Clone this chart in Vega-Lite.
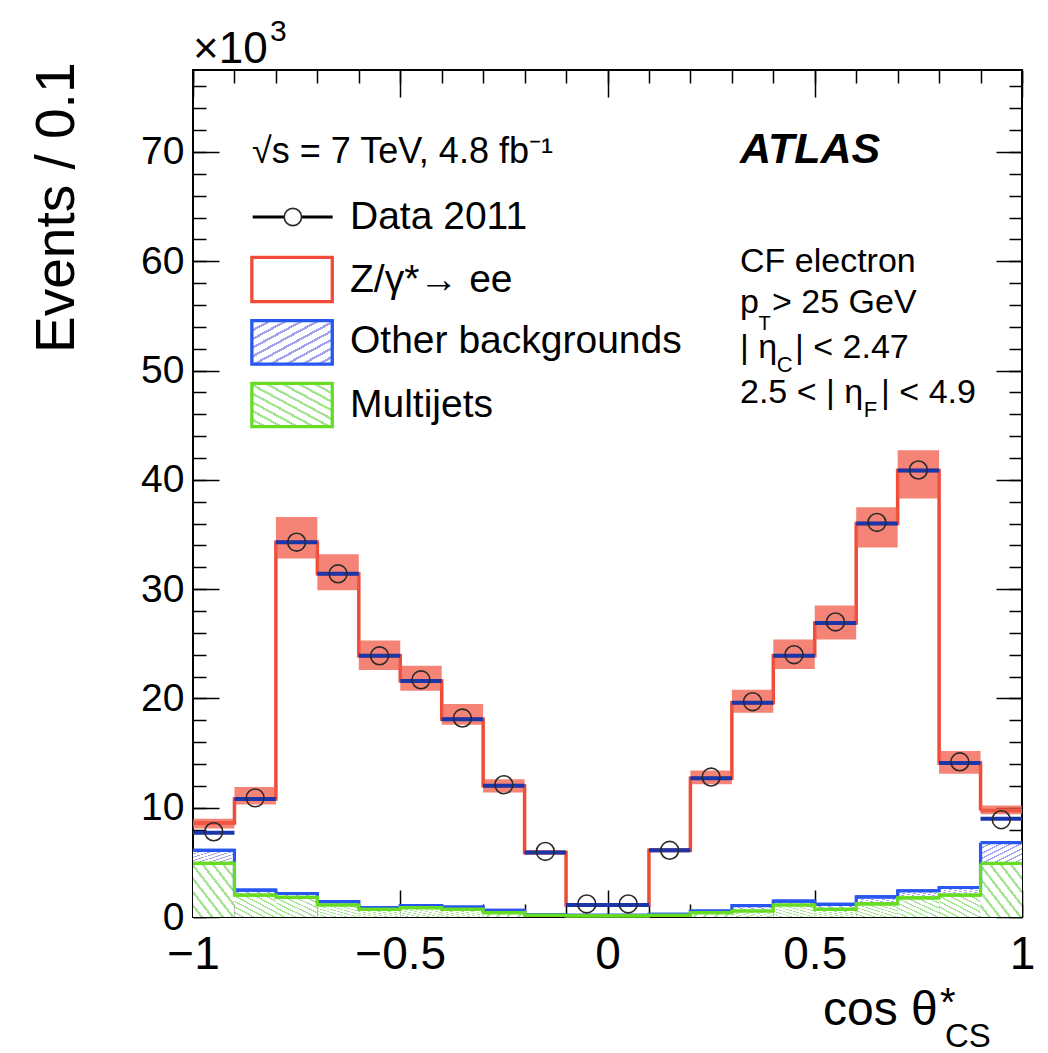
{
  "$schema": "https://vega.github.io/schema/vega-lite/v6.json",
  "width": 829,
  "height": 847,
  "autosize": {"type": "none"},
  "padding": {"left": 193, "top": 70, "right": 26, "bottom": 136},
  "config": {
    "font": "Liberation Sans",
    "view": {"stroke": "#000000", "strokeWidth": 2},
    "axis": {"domain": false, "grid": false, "labelColor": "#000000", "tickColor": "#000000", "titleColor": "#000000"}
  },
  "data": {
    "values": [
      {"cos_lo": -1.0, "cos_hi": -0.9, "cos_mid": -0.95, "multijet": 4.9, "other": 6.1, "total": 7.7, "zee": 8.6, "unc_lo": 8.1, "unc_hi": 9.0, "data": 7.8},
      {"cos_lo": -0.9, "cos_hi": -0.8, "cos_mid": -0.85, "multijet": 2.0, "other": 2.45, "total": 10.8, "zee": 10.8, "unc_lo": 10.3, "unc_hi": 11.9, "data": 10.9},
      {"cos_lo": -0.8, "cos_hi": -0.7, "cos_mid": -0.75, "multijet": 1.8, "other": 2.15, "total": 34.3, "zee": 34.3, "unc_lo": 32.8, "unc_hi": 36.6, "data": 34.3},
      {"cos_lo": -0.7, "cos_hi": -0.6, "cos_mid": -0.65, "multijet": 1.1, "other": 1.4, "total": 31.4, "zee": 31.4, "unc_lo": 29.9, "unc_hi": 33.2, "data": 31.4},
      {"cos_lo": -0.6, "cos_hi": -0.5, "cos_mid": -0.55, "multijet": 0.7, "other": 0.85, "total": 23.9, "zee": 23.9, "unc_lo": 22.6, "unc_hi": 25.3, "data": 23.9},
      {"cos_lo": -0.5, "cos_hi": -0.4, "cos_mid": -0.45, "multijet": 0.85, "other": 1.05, "total": 21.6, "zee": 21.6, "unc_lo": 20.7, "unc_hi": 23.0, "data": 21.7},
      {"cos_lo": -0.4, "cos_hi": -0.3, "cos_mid": -0.35, "multijet": 0.7, "other": 0.9, "total": 18.1, "zee": 18.1, "unc_lo": 17.6, "unc_hi": 19.5, "data": 18.2},
      {"cos_lo": -0.3, "cos_hi": -0.2, "cos_mid": -0.25, "multijet": 0.4, "other": 0.6, "total": 12.0, "zee": 12.0, "unc_lo": 11.4, "unc_hi": 12.6, "data": 12.1},
      {"cos_lo": -0.2, "cos_hi": -0.1, "cos_mid": -0.15, "multijet": 0.15, "other": 0.2, "total": 5.9, "zee": 5.9, "unc_lo": 5.7, "unc_hi": 6.1, "data": 6.0},
      {"cos_lo": -0.1, "cos_hi": 0.0, "cos_mid": -0.05, "multijet": 0.1, "other": 0.15, "total": 1.1, "zee": 1.1, "unc_lo": 1.0, "unc_hi": 1.2, "data": 1.2},
      {"cos_lo": 0.0, "cos_hi": 0.1, "cos_mid": 0.05, "multijet": 0.1, "other": 0.15, "total": 1.1, "zee": 1.1, "unc_lo": 1.0, "unc_hi": 1.2, "data": 1.2},
      {"cos_lo": 0.1, "cos_hi": 0.2, "cos_mid": 0.15, "multijet": 0.15, "other": 0.25, "total": 6.1, "zee": 6.1, "unc_lo": 5.9, "unc_hi": 6.3, "data": 6.1},
      {"cos_lo": 0.2, "cos_hi": 0.3, "cos_mid": 0.25, "multijet": 0.4, "other": 0.55, "total": 12.7, "zee": 12.7, "unc_lo": 12.15, "unc_hi": 13.4, "data": 12.8},
      {"cos_lo": 0.3, "cos_hi": 0.4, "cos_mid": 0.35, "multijet": 0.55, "other": 1.05, "total": 19.6, "zee": 19.6, "unc_lo": 18.7, "unc_hi": 20.8, "data": 19.7},
      {"cos_lo": 0.4, "cos_hi": 0.5, "cos_mid": 0.45, "multijet": 1.1, "other": 1.45, "total": 23.9, "zee": 23.9, "unc_lo": 22.7, "unc_hi": 25.4, "data": 24.0},
      {"cos_lo": 0.5, "cos_hi": 0.6, "cos_mid": 0.55, "multijet": 0.7, "other": 1.15, "total": 26.9, "zee": 26.9, "unc_lo": 25.4, "unc_hi": 28.5, "data": 27.0},
      {"cos_lo": 0.6, "cos_hi": 0.7, "cos_mid": 0.65, "multijet": 1.2, "other": 1.85, "total": 36.0, "zee": 36.0, "unc_lo": 33.8, "unc_hi": 37.5, "data": 36.1},
      {"cos_lo": 0.7, "cos_hi": 0.8, "cos_mid": 0.75, "multijet": 1.75, "other": 2.4, "total": 40.85, "zee": 40.85, "unc_lo": 38.3, "unc_hi": 42.7, "data": 40.9},
      {"cos_lo": 0.8, "cos_hi": 0.9, "cos_mid": 0.85, "multijet": 2.0, "other": 2.7, "total": 14.1, "zee": 14.1, "unc_lo": 13.1, "unc_hi": 15.2, "data": 14.2},
      {"cos_lo": 0.9, "cos_hi": 1.0, "cos_mid": 0.95, "multijet": 4.9, "other": 6.8, "total": 9.0, "zee": 9.75, "unc_lo": 9.4, "unc_hi": 10.2, "data": 8.9}
    ]
  },
  "resolve": {"axis": {"x": "independent", "y": "independent"}},
  "layer": [
    {
      "mark": {"type": "rect", "fill": {"gradient": "linear", "x1": 1, "y1": 0, "x2": 0, "y2": 1, "stops": [
        {"offset": 0, "color": "#a4e492"}, {"offset": 0.035, "color": "#a4e492"}, {"offset": 0.035, "color": "#ffffff"}, {"offset": 0.125, "color": "#ffffff"},
        {"offset": 0.125, "color": "#a4e492"}, {"offset": 0.16, "color": "#a4e492"}, {"offset": 0.16, "color": "#ffffff"}, {"offset": 0.25, "color": "#ffffff"},
        {"offset": 0.25, "color": "#a4e492"}, {"offset": 0.285, "color": "#a4e492"}, {"offset": 0.285, "color": "#ffffff"}, {"offset": 0.375, "color": "#ffffff"},
        {"offset": 0.375, "color": "#a4e492"}, {"offset": 0.41, "color": "#a4e492"}, {"offset": 0.41, "color": "#ffffff"}, {"offset": 0.5, "color": "#ffffff"},
        {"offset": 0.5, "color": "#a4e492"}, {"offset": 0.535, "color": "#a4e492"}, {"offset": 0.535, "color": "#ffffff"}, {"offset": 0.625, "color": "#ffffff"},
        {"offset": 0.625, "color": "#a4e492"}, {"offset": 0.66, "color": "#a4e492"}, {"offset": 0.66, "color": "#ffffff"}, {"offset": 0.75, "color": "#ffffff"},
        {"offset": 0.75, "color": "#a4e492"}, {"offset": 0.785, "color": "#a4e492"}, {"offset": 0.785, "color": "#ffffff"}, {"offset": 0.875, "color": "#ffffff"},
        {"offset": 0.875, "color": "#a4e492"}, {"offset": 0.91, "color": "#a4e492"}, {"offset": 0.91, "color": "#ffffff"}, {"offset": 1, "color": "#ffffff"}]}},
      "encoding": {
        "x": {"field": "cos_lo", "type": "quantitative", "scale": {"domain": [-1, 1], "nice": false, "zero": false},
          "axis": {"orient": "bottom", "values": [-1, -0.5, 0, 0.5, 1], "format": "~g", "ticks": false, "labelFontSize": 46, "labelPadding": 15, "labelFlush": false, "title": null}},
        "x2": {"field": "cos_hi"},
        "y": {"field": "multijet", "type": "quantitative", "scale": {"domain": [0, 77.5], "nice": false},
          "axis": {"orient": "left", "values": [0, 10, 20, 30, 40, 50, 60, 70], "format": "d", "ticks": false, "labelFontSize": 39, "labelPadding": 9, "labelFlush": false,
            "title": "Events / 0.1", "titleFontSize": 55, "titleFontWeight": "normal", "titleAngle": -90, "titleAnchor": "end", "titleAlign": "right", "titleBaseline": "alphabetic", "titleX": -120, "titleY": -8}},
        "y2": {"datum": 0}
      }
    },
    {
      "mark": {"type": "rect", "fill": {"gradient": "linear", "x1": 0, "y1": 0, "x2": 1, "y2": 1, "stops": [
        {"offset": 0, "color": "#a3a3f2"}, {"offset": 0.035, "color": "#a3a3f2"}, {"offset": 0.035, "color": "#ffffff"}, {"offset": 0.125, "color": "#ffffff"},
        {"offset": 0.125, "color": "#a3a3f2"}, {"offset": 0.16, "color": "#a3a3f2"}, {"offset": 0.16, "color": "#ffffff"}, {"offset": 0.25, "color": "#ffffff"},
        {"offset": 0.25, "color": "#a3a3f2"}, {"offset": 0.285, "color": "#a3a3f2"}, {"offset": 0.285, "color": "#ffffff"}, {"offset": 0.375, "color": "#ffffff"},
        {"offset": 0.375, "color": "#a3a3f2"}, {"offset": 0.41, "color": "#a3a3f2"}, {"offset": 0.41, "color": "#ffffff"}, {"offset": 0.5, "color": "#ffffff"},
        {"offset": 0.5, "color": "#a3a3f2"}, {"offset": 0.535, "color": "#a3a3f2"}, {"offset": 0.535, "color": "#ffffff"}, {"offset": 0.625, "color": "#ffffff"},
        {"offset": 0.625, "color": "#a3a3f2"}, {"offset": 0.66, "color": "#a3a3f2"}, {"offset": 0.66, "color": "#ffffff"}, {"offset": 0.75, "color": "#ffffff"},
        {"offset": 0.75, "color": "#a3a3f2"}, {"offset": 0.785, "color": "#a3a3f2"}, {"offset": 0.785, "color": "#ffffff"}, {"offset": 0.875, "color": "#ffffff"},
        {"offset": 0.875, "color": "#a3a3f2"}, {"offset": 0.91, "color": "#a3a3f2"}, {"offset": 0.91, "color": "#ffffff"}, {"offset": 1, "color": "#ffffff"}]}},
      "encoding": {
        "x": {"field": "cos_lo", "type": "quantitative", "scale": {"domain": [-1, 1], "nice": false, "zero": false},
          "axis": {"orient": "bottom", "values": [-1, -0.5, 0, 0.5, 1], "labels": false, "tickSize": -27, "tickWidth": 1.5, "title": null}},
        "x2": {"field": "cos_hi"},
        "y": {"field": "other", "type": "quantitative", "scale": {"domain": [0, 77.5], "nice": false},
          "axis": {"orient": "left", "values": [0, 10, 20, 30, 40, 50, 60, 70], "labels": false, "tickSize": -26, "tickWidth": 1.5, "title": null}},
        "y2": {"field": "multijet"}
      }
    },
    {
      "mark": {"type": "line", "interpolate": "step-after", "color": "#f04b37", "strokeWidth": 3.5},
      "encoding": {
        "x": {"field": "cos_lo", "type": "quantitative", "scale": {"domain": [-1, 1], "nice": false, "zero": false},
          "axis": {"orient": "bottom", "values": [-1, -0.9, -0.8, -0.7, -0.6, -0.5, -0.4, -0.3, -0.2, -0.1, 0, 0.1, 0.2, 0.3, 0.4, 0.5, 0.6, 0.7, 0.8, 0.9, 1], "labels": false, "tickSize": -13, "tickWidth": 1.5, "title": null}},
        "y": {"field": "zee", "type": "quantitative", "scale": {"domain": [0, 77.5], "nice": false},
          "axis": {"orient": "left", "values": [0, 2, 4, 6, 8, 10, 12, 14, 16, 18, 20, 22, 24, 26, 28, 30, 32, 34, 36, 38, 40, 42, 44, 46, 48, 50, 52, 54, 56, 58, 60, 62, 64, 66, 68, 70, 72, 74, 76], "labels": false, "tickSize": -13, "tickWidth": 1.5, "title": null}}
      }
    },
    {
      "mark": {"type": "rule", "color": "#f04b37", "strokeWidth": 3.5},
      "encoding": {
        "x": {"field": "cos_lo", "type": "quantitative", "scale": {"domain": [-1, 1], "nice": false, "zero": false},
          "axis": {"orient": "top", "values": [-1, -0.5, 0, 0.5, 1], "labels": false, "tickSize": -27, "tickWidth": 1.5, "title": null}},
        "x2": {"field": "cos_hi"},
        "y": {"field": "zee", "type": "quantitative", "scale": {"domain": [0, 77.5], "nice": false},
          "axis": {"orient": "right", "values": [0, 10, 20, 30, 40, 50, 60, 70], "labels": false, "tickSize": -26, "tickWidth": 1.5, "title": null}}
      }
    },
    {
      "mark": {"type": "line", "interpolate": "step-after", "color": "#2756f0", "strokeWidth": 3.2},
      "encoding": {
        "x": {"field": "cos_lo", "type": "quantitative", "scale": {"domain": [-1, 1], "nice": false, "zero": false},
          "axis": {"orient": "top", "values": [-1, -0.9, -0.8, -0.7, -0.6, -0.5, -0.4, -0.3, -0.2, -0.1, 0, 0.1, 0.2, 0.3, 0.4, 0.5, 0.6, 0.7, 0.8, 0.9, 1], "labels": false, "tickSize": -13, "tickWidth": 1.5, "title": null}},
        "y": {"field": "other", "type": "quantitative", "scale": {"domain": [0, 77.5], "nice": false},
          "axis": {"orient": "right", "values": [0, 2, 4, 6, 8, 10, 12, 14, 16, 18, 20, 22, 24, 26, 28, 30, 32, 34, 36, 38, 40, 42, 44, 46, 48, 50, 52, 54, 56, 58, 60, 62, 64, 66, 68, 70, 72, 74, 76], "labels": false, "tickSize": -13, "tickWidth": 1.5, "title": null}}
      }
    },
    {
      "mark": {"type": "rule", "color": "#2756f0", "strokeWidth": 3.2},
      "encoding": {
        "x": {"field": "cos_lo", "type": "quantitative", "scale": {"domain": [-1, 1], "nice": false, "zero": false}, "axis": null},
        "x2": {"field": "cos_hi"},
        "y": {"field": "other", "type": "quantitative", "scale": {"domain": [0, 77.5], "nice": false}, "axis": null}
      }
    },
    {
      "mark": {"type": "line", "interpolate": "step-after", "color": "#66dd22", "strokeWidth": 3.2},
      "encoding": {
        "x": {"field": "cos_lo", "type": "quantitative", "scale": {"domain": [-1, 1], "nice": false, "zero": false}, "axis": null},
        "y": {"field": "multijet", "type": "quantitative", "scale": {"domain": [0, 77.5], "nice": false}, "axis": null}
      }
    },
    {
      "mark": {"type": "rule", "color": "#66dd22", "strokeWidth": 3.2},
      "encoding": {
        "x": {"field": "cos_lo", "type": "quantitative", "scale": {"domain": [-1, 1], "nice": false, "zero": false}, "axis": null},
        "x2": {"field": "cos_hi"},
        "y": {"field": "multijet", "type": "quantitative", "scale": {"domain": [0, 77.5], "nice": false}, "axis": null}
      }
    },
    {
      "mark": {"type": "rect", "fill": "#f25a48", "fillOpacity": 0.75},
      "encoding": {
        "x": {"field": "cos_lo", "type": "quantitative", "scale": {"domain": [-1, 1], "nice": false, "zero": false}, "axis": null},
        "x2": {"field": "cos_hi"},
        "y": {"field": "unc_lo", "type": "quantitative", "scale": {"domain": [0, 77.5], "nice": false}, "axis": null},
        "y2": {"field": "unc_hi"}
      }
    },
    {
      "mark": {"type": "rule", "color": "#1a36a8", "strokeWidth": 4},
      "encoding": {
        "x": {"field": "cos_lo", "type": "quantitative", "scale": {"domain": [-1, 1], "nice": false, "zero": false}, "axis": null},
        "x2": {"field": "cos_hi"},
        "y": {"field": "total", "type": "quantitative", "scale": {"domain": [0, 77.5], "nice": false}, "axis": null}
      }
    },
    {
      "mark": {"type": "point", "shape": "circle", "filled": false, "size": 320, "stroke": "#2a2a2a", "strokeWidth": 1.6, "opacity": 1},
      "encoding": {
        "x": {"field": "cos_mid", "type": "quantitative", "scale": {"domain": [-1, 1], "nice": false, "zero": false}, "axis": null},
        "y": {"field": "data", "type": "quantitative", "scale": {"domain": [0, 77.5], "nice": false}, "axis": null}
      }
    },
    {
      "data": {"values": [{}]},
      "layer": [
        {
          "mark": {"type": "rule", "color": "#000000", "strokeWidth": 3},
          "encoding": {
            "x": {"datum": -0.856, "type": "quantitative", "scale": {"domain": [-1, 1], "nice": false, "zero": false}, "axis": null},
            "x2": {"datum": -0.663},
            "y": {"datum": 64.05, "type": "quantitative", "scale": {"domain": [0, 77.5], "nice": false}, "axis": null}
          }
        },
        {
          "mark": {"type": "point", "shape": "circle", "filled": true, "fill": "#ffffff", "fillOpacity": 1, "size": 300, "stroke": "#2a2a2a", "strokeWidth": 1.6, "opacity": 1},
          "encoding": {
            "x": {"datum": -0.759, "type": "quantitative", "scale": {"domain": [-1, 1], "nice": false, "zero": false}, "axis": null},
            "y": {"datum": 64.05, "type": "quantitative", "scale": {"domain": [0, 77.5], "nice": false}, "axis": null}
          }
        },
        {
          "mark": {"type": "rect", "fill": "#ffffff", "stroke": "#f04b37", "strokeWidth": 3.3},
          "encoding": {
            "x": {"datum": -0.858, "type": "quantitative", "scale": {"domain": [-1, 1], "nice": false, "zero": false}, "axis": null},
            "x2": {"datum": -0.664},
            "y": {"datum": 60.36, "type": "quantitative", "scale": {"domain": [0, 77.5], "nice": false}, "axis": null},
            "y2": {"datum": 56.3}
          }
        },
        {
          "mark": {"type": "rect", "stroke": "#2756f0", "strokeWidth": 3.3, "fill": {"gradient": "linear", "x1": 0, "y1": 0, "x2": 1, "y2": 1, "stops": [
            {"offset": 0, "color": "#a3a3f2"}, {"offset": 0.03, "color": "#a3a3f2"}, {"offset": 0.03, "color": "#ffffff"}, {"offset": 0.1, "color": "#ffffff"},
            {"offset": 0.1, "color": "#a3a3f2"}, {"offset": 0.13, "color": "#a3a3f2"}, {"offset": 0.13, "color": "#ffffff"}, {"offset": 0.2, "color": "#ffffff"},
            {"offset": 0.2, "color": "#a3a3f2"}, {"offset": 0.23, "color": "#a3a3f2"}, {"offset": 0.23, "color": "#ffffff"}, {"offset": 0.3, "color": "#ffffff"},
            {"offset": 0.3, "color": "#a3a3f2"}, {"offset": 0.33, "color": "#a3a3f2"}, {"offset": 0.33, "color": "#ffffff"}, {"offset": 0.4, "color": "#ffffff"},
            {"offset": 0.4, "color": "#a3a3f2"}, {"offset": 0.43, "color": "#a3a3f2"}, {"offset": 0.43, "color": "#ffffff"}, {"offset": 0.5, "color": "#ffffff"},
            {"offset": 0.5, "color": "#a3a3f2"}, {"offset": 0.53, "color": "#a3a3f2"}, {"offset": 0.53, "color": "#ffffff"}, {"offset": 0.6, "color": "#ffffff"},
            {"offset": 0.6, "color": "#a3a3f2"}, {"offset": 0.63, "color": "#a3a3f2"}, {"offset": 0.63, "color": "#ffffff"}, {"offset": 0.7, "color": "#ffffff"},
            {"offset": 0.7, "color": "#a3a3f2"}, {"offset": 0.73, "color": "#a3a3f2"}, {"offset": 0.73, "color": "#ffffff"}, {"offset": 0.8, "color": "#ffffff"},
            {"offset": 0.8, "color": "#a3a3f2"}, {"offset": 0.83, "color": "#a3a3f2"}, {"offset": 0.83, "color": "#ffffff"}, {"offset": 0.9, "color": "#ffffff"},
            {"offset": 0.9, "color": "#a3a3f2"}, {"offset": 0.93, "color": "#a3a3f2"}, {"offset": 0.93, "color": "#ffffff"}, {"offset": 1, "color": "#ffffff"}]}},
          "encoding": {
            "x": {"datum": -0.858, "type": "quantitative", "scale": {"domain": [-1, 1], "nice": false, "zero": false}, "axis": null},
            "x2": {"datum": -0.664},
            "y": {"datum": 54.56, "type": "quantitative", "scale": {"domain": [0, 77.5], "nice": false}, "axis": null},
            "y2": {"datum": 50.59}
          }
        },
        {
          "mark": {"type": "rect", "stroke": "#66dd22", "strokeWidth": 3.3, "fill": {"gradient": "linear", "x1": 1, "y1": 0, "x2": 0, "y2": 1, "stops": [
            {"offset": 0, "color": "#a4e492"}, {"offset": 0.03, "color": "#a4e492"}, {"offset": 0.03, "color": "#ffffff"}, {"offset": 0.1, "color": "#ffffff"},
            {"offset": 0.1, "color": "#a4e492"}, {"offset": 0.13, "color": "#a4e492"}, {"offset": 0.13, "color": "#ffffff"}, {"offset": 0.2, "color": "#ffffff"},
            {"offset": 0.2, "color": "#a4e492"}, {"offset": 0.23, "color": "#a4e492"}, {"offset": 0.23, "color": "#ffffff"}, {"offset": 0.3, "color": "#ffffff"},
            {"offset": 0.3, "color": "#a4e492"}, {"offset": 0.33, "color": "#a4e492"}, {"offset": 0.33, "color": "#ffffff"}, {"offset": 0.4, "color": "#ffffff"},
            {"offset": 0.4, "color": "#a4e492"}, {"offset": 0.43, "color": "#a4e492"}, {"offset": 0.43, "color": "#ffffff"}, {"offset": 0.5, "color": "#ffffff"},
            {"offset": 0.5, "color": "#a4e492"}, {"offset": 0.53, "color": "#a4e492"}, {"offset": 0.53, "color": "#ffffff"}, {"offset": 0.6, "color": "#ffffff"},
            {"offset": 0.6, "color": "#a4e492"}, {"offset": 0.63, "color": "#a4e492"}, {"offset": 0.63, "color": "#ffffff"}, {"offset": 0.7, "color": "#ffffff"},
            {"offset": 0.7, "color": "#a4e492"}, {"offset": 0.73, "color": "#a4e492"}, {"offset": 0.73, "color": "#ffffff"}, {"offset": 0.8, "color": "#ffffff"},
            {"offset": 0.8, "color": "#a4e492"}, {"offset": 0.83, "color": "#a4e492"}, {"offset": 0.83, "color": "#ffffff"}, {"offset": 0.9, "color": "#ffffff"},
            {"offset": 0.9, "color": "#a4e492"}, {"offset": 0.93, "color": "#a4e492"}, {"offset": 0.93, "color": "#ffffff"}, {"offset": 1, "color": "#ffffff"}]}},
          "encoding": {
            "x": {"datum": -0.858, "type": "quantitative", "scale": {"domain": [-1, 1], "nice": false, "zero": false}, "axis": null},
            "x2": {"datum": -0.664},
            "y": {"datum": 48.83, "type": "quantitative", "scale": {"domain": [0, 77.5], "nice": false}, "axis": null},
            "y2": {"datum": 44.86}
          }
        },
        {
          "mark": {"type": "text", "text": "×10", "align": "left", "baseline": "alphabetic", "fontSize": 44},
          "encoding": {
            "x": {"datum": -1.0, "type": "quantitative", "scale": {"domain": [-1, 1], "nice": false, "zero": false}, "axis": null},
            "y": {"datum": 78.14, "type": "quantitative", "scale": {"domain": [0, 77.5], "nice": false}, "axis": null}
          }
        },
        {
          "mark": {"type": "text", "text": "3", "align": "left", "baseline": "alphabetic", "fontSize": 30},
          "encoding": {
            "x": {"datum": -0.8142, "type": "quantitative", "scale": {"domain": [-1, 1], "nice": false, "zero": false}, "axis": null},
            "y": {"datum": 80.15, "type": "quantitative", "scale": {"domain": [0, 77.5], "nice": false}, "axis": null}
          }
        },
        {
          "mark": {"type": "text", "text": "√s = 7 TeV, 4.8 fb⁻¹", "align": "left", "baseline": "alphabetic", "fontSize": 36},
          "encoding": {
            "x": {"datum": -0.8577, "type": "quantitative", "scale": {"domain": [-1, 1], "nice": false, "zero": false}, "axis": null},
            "y": {"datum": 68.99, "type": "quantitative", "scale": {"domain": [0, 77.5], "nice": false}, "axis": null}
          }
        },
        {
          "mark": {"type": "text", "text": "Data 2011", "align": "left", "baseline": "alphabetic", "fontSize": 39},
          "encoding": {
            "x": {"datum": -0.6212, "type": "quantitative", "scale": {"domain": [-1, 1], "nice": false, "zero": false}, "axis": null},
            "y": {"datum": 62.92, "type": "quantitative", "scale": {"domain": [0, 77.5], "nice": false}, "axis": null}
          }
        },
        {
          "mark": {"type": "text", "text": "Z/γ*→ ee", "align": "left", "baseline": "alphabetic", "fontSize": 39},
          "encoding": {
            "x": {"datum": -0.6212, "type": "quantitative", "scale": {"domain": [-1, 1], "nice": false, "zero": false}, "axis": null},
            "y": {"datum": 57.22, "type": "quantitative", "scale": {"domain": [0, 77.5], "nice": false}, "axis": null}
          }
        },
        {
          "mark": {"type": "text", "text": "Other backgrounds", "align": "left", "baseline": "alphabetic", "fontSize": 39},
          "encoding": {
            "x": {"datum": -0.6212, "type": "quantitative", "scale": {"domain": [-1, 1], "nice": false, "zero": false}, "axis": null},
            "y": {"datum": 51.58, "type": "quantitative", "scale": {"domain": [0, 77.5], "nice": false}, "axis": null}
          }
        },
        {
          "mark": {"type": "text", "text": "Multijets", "align": "left", "baseline": "alphabetic", "fontSize": 39},
          "encoding": {
            "x": {"datum": -0.6212, "type": "quantitative", "scale": {"domain": [-1, 1], "nice": false, "zero": false}, "axis": null},
            "y": {"datum": 45.78, "type": "quantitative", "scale": {"domain": [0, 77.5], "nice": false}, "axis": null}
          }
        },
        {
          "mark": {"type": "text", "text": "ATLAS", "align": "left", "baseline": "alphabetic", "fontSize": 43, "fontWeight": "bold", "fontStyle": "italic"},
          "encoding": {
            "x": {"datum": 0.3197, "type": "quantitative", "scale": {"domain": [-1, 1], "nice": false, "zero": false}, "axis": null},
            "y": {"datum": 68.96, "type": "quantitative", "scale": {"domain": [0, 77.5], "nice": false}, "axis": null}
          }
        },
        {
          "mark": {"type": "text", "text": "CF electron", "align": "left", "baseline": "alphabetic", "fontSize": 34},
          "encoding": {
            "x": {"datum": 0.3197, "type": "quantitative", "scale": {"domain": [-1, 1], "nice": false, "zero": false}, "axis": null},
            "y": {"datum": 59.05, "type": "quantitative", "scale": {"domain": [0, 77.5], "nice": false}, "axis": null}
          }
        },
        {
          "mark": {"type": "text", "text": "p", "align": "left", "baseline": "alphabetic", "fontSize": 34},
          "encoding": {
            "x": {"datum": 0.3197, "type": "quantitative", "scale": {"domain": [-1, 1], "nice": false, "zero": false}, "axis": null},
            "y": {"datum": 55.24, "type": "quantitative", "scale": {"domain": [0, 77.5], "nice": false}, "axis": null}
          }
        },
        {
          "mark": {"type": "text", "text": "T", "align": "left", "baseline": "alphabetic", "fontSize": 20},
          "encoding": {
            "x": {"datum": 0.3645, "type": "quantitative", "scale": {"domain": [-1, 1], "nice": false, "zero": false}, "axis": null},
            "y": {"datum": 53.71, "type": "quantitative", "scale": {"domain": [0, 77.5], "nice": false}, "axis": null}
          }
        },
        {
          "mark": {"type": "text", "text": "> 25 GeV", "align": "left", "baseline": "alphabetic", "fontSize": 34},
          "encoding": {
            "x": {"datum": 0.397, "type": "quantitative", "scale": {"domain": [-1, 1], "nice": false, "zero": false}, "axis": null},
            "y": {"datum": 55.24, "type": "quantitative", "scale": {"domain": [0, 77.5], "nice": false}, "axis": null}
          }
        },
        {
          "mark": {"type": "text", "text": "| η", "align": "left", "baseline": "alphabetic", "fontSize": 34},
          "encoding": {
            "x": {"datum": 0.3197, "type": "quantitative", "scale": {"domain": [-1, 1], "nice": false, "zero": false}, "axis": null},
            "y": {"datum": 51.12, "type": "quantitative", "scale": {"domain": [0, 77.5], "nice": false}, "axis": null}
          }
        },
        {
          "mark": {"type": "text", "text": "C", "align": "left", "baseline": "alphabetic", "fontSize": 22},
          "encoding": {
            "x": {"datum": 0.4082, "type": "quantitative", "scale": {"domain": [-1, 1], "nice": false, "zero": false}, "axis": null},
            "y": {"datum": 49.9, "type": "quantitative", "scale": {"domain": [0, 77.5], "nice": false}, "axis": null}
          }
        },
        {
          "mark": {"type": "text", "text": "| < 2.47", "align": "left", "baseline": "alphabetic", "fontSize": 34},
          "encoding": {
            "x": {"datum": 0.4524, "type": "quantitative", "scale": {"domain": [-1, 1], "nice": false, "zero": false}, "axis": null},
            "y": {"datum": 51.12, "type": "quantitative", "scale": {"domain": [0, 77.5], "nice": false}, "axis": null}
          }
        },
        {
          "mark": {"type": "text", "text": "2.5 < | η", "align": "left", "baseline": "alphabetic", "fontSize": 34},
          "encoding": {
            "x": {"datum": 0.3197, "type": "quantitative", "scale": {"domain": [-1, 1], "nice": false, "zero": false}, "axis": null},
            "y": {"datum": 47.0, "type": "quantitative", "scale": {"domain": [0, 77.5], "nice": false}, "axis": null}
          }
        },
        {
          "mark": {"type": "text", "text": "F", "align": "left", "baseline": "alphabetic", "fontSize": 22},
          "encoding": {
            "x": {"datum": 0.618, "type": "quantitative", "scale": {"domain": [-1, 1], "nice": false, "zero": false}, "axis": null},
            "y": {"datum": 45.78, "type": "quantitative", "scale": {"domain": [0, 77.5], "nice": false}, "axis": null}
          }
        },
        {
          "mark": {"type": "text", "text": "| < 4.9", "align": "left", "baseline": "alphabetic", "fontSize": 34},
          "encoding": {
            "x": {"datum": 0.66, "type": "quantitative", "scale": {"domain": [-1, 1], "nice": false, "zero": false}, "axis": null},
            "y": {"datum": 47.0, "type": "quantitative", "scale": {"domain": [0, 77.5], "nice": false}, "axis": null}
          }
        },
        {
          "mark": {"type": "text", "text": "cos θ", "align": "left", "baseline": "alphabetic", "fontSize": 48},
          "encoding": {
            "x": {"datum": 0.52, "type": "quantitative", "scale": {"domain": [-1, 1], "nice": false, "zero": false}, "axis": null},
            "y": {"datum": -9.88, "type": "quantitative", "scale": {"domain": [0, 77.5], "nice": false}, "axis": null}
          }
        },
        {
          "mark": {"type": "text", "text": "*", "align": "left", "baseline": "alphabetic", "fontSize": 40},
          "encoding": {
            "x": {"datum": 0.802, "type": "quantitative", "scale": {"domain": [-1, 1], "nice": false, "zero": false}, "axis": null},
            "y": {"datum": -9.06, "type": "quantitative", "scale": {"domain": [0, 77.5], "nice": false}, "axis": null}
          }
        },
        {
          "mark": {"type": "text", "text": "CS", "align": "left", "baseline": "alphabetic", "fontSize": 33},
          "encoding": {
            "x": {"datum": 0.814, "type": "quantitative", "scale": {"domain": [-1, 1], "nice": false, "zero": false}, "axis": null},
            "y": {"datum": -11.9, "type": "quantitative", "scale": {"domain": [0, 77.5], "nice": false}, "axis": null}
          }
        }
      ]
    }
  ]
}
